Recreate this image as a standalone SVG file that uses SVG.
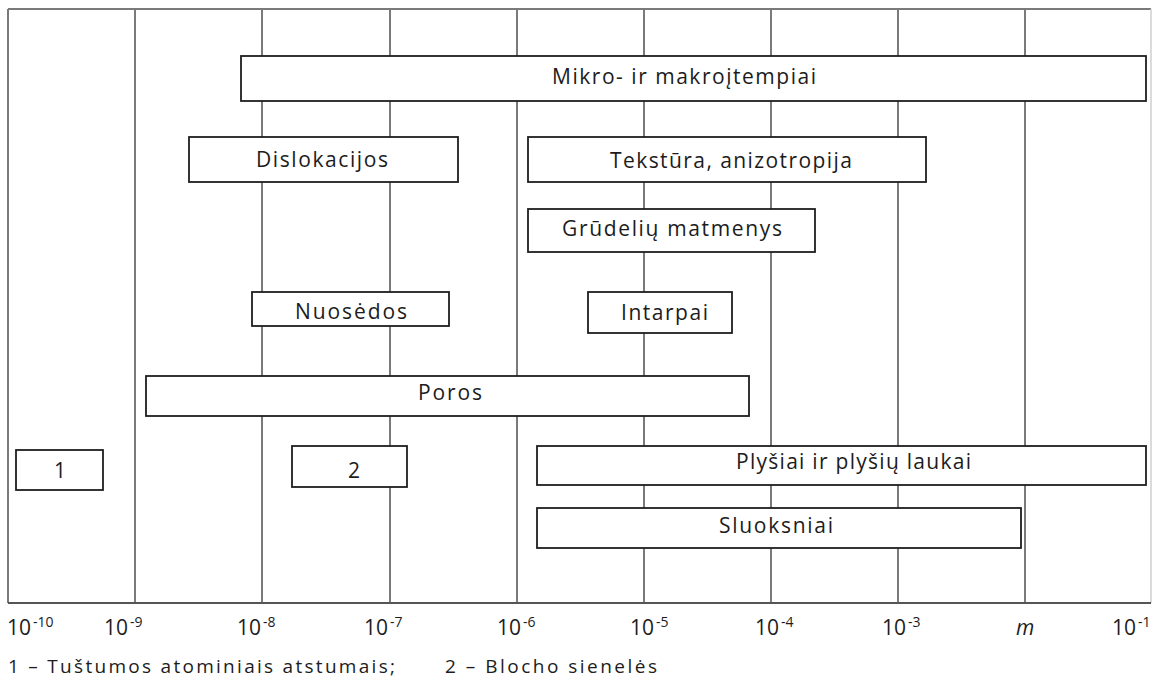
<svg xmlns="http://www.w3.org/2000/svg" width="1152" height="682" viewBox="0 0 1152 682">
  <style>
    .grid { stroke: #7a7a7a; stroke-width: 2; fill: none; }
    .frame { stroke: #555; stroke-width: 2; fill: none; }
    .box { fill: #fff; stroke: #1e1e1e; stroke-width: 1.8; }
    .lbl { font-family: "Open Sans", "Liberation Sans", sans-serif; font-size: 21px; fill: #1c1c1c; }
    .ax { font-family: "Open Sans", "Liberation Sans", sans-serif; font-size: 21px; fill: #1c1c1c; }
    .sup { font-family: "Open Sans", "Liberation Sans", sans-serif; font-size: 14px; fill: #1c1c1c; }
    .leg { font-family: "Open Sans", "Liberation Sans", sans-serif; font-size: 19px; fill: #1c1c1c; }
  </style>
  <rect width="1152" height="682" fill="#fff"/>

  <!-- scale grid: one vertical line per decade -->
  <g id="grid">
    <line class="grid" x1="8" y1="9" x2="1151" y2="9"/>
    <line class="grid" x1="8" y1="9" x2="8" y2="603"/>
    <line class="grid" x1="135" y1="9" x2="135" y2="603"/>
    <line class="grid" x1="262" y1="9" x2="262" y2="603"/>
    <line class="grid" x1="390" y1="9" x2="390" y2="603"/>
    <line class="grid" x1="517" y1="9" x2="517" y2="603"/>
    <line class="grid" x1="644" y1="9" x2="644" y2="603"/>
    <line class="grid" x1="771" y1="9" x2="771" y2="603"/>
    <line class="grid" x1="898" y1="9" x2="898" y2="603"/>
    <line class="grid" x1="1025" y1="9" x2="1025" y2="603"/>
    <line x1="1151" y1="9" x2="1151" y2="603" stroke="#cfcfcf" stroke-width="1.5"/>
    <line class="frame" x1="8" y1="603" x2="1151" y2="603"/>
  </g>

  <!-- ranges -->
  <g id="mikro">
    <rect class="box" x="241" y="56" width="905" height="45"/>
    <text class="lbl" x="552" y="84" textLength="264" lengthAdjust="spacing">Mikro- ir makroįtempiai</text>
  </g>
  <g id="dislokacijos">
    <rect class="box" x="189" y="137" width="269" height="45"/>
    <text class="lbl" x="256" y="167" textLength="132" lengthAdjust="spacing">Dislokacijos</text>
  </g>
  <g id="tekstura">
    <rect class="box" x="528" y="137" width="398" height="45"/>
    <text class="lbl" x="610" y="168" textLength="242" lengthAdjust="spacing">Tekstūra, anizotropija</text>
  </g>
  <g id="grudeliai">
    <rect class="box" x="528" y="209" width="287" height="43"/>
    <text class="lbl" x="562" y="236" textLength="220" lengthAdjust="spacing">Grūdelių matmenys</text>
  </g>
  <g id="nuosedos">
    <rect class="box" x="252" y="292" width="197" height="34"/>
    <text class="lbl" x="295" y="319" textLength="112" lengthAdjust="spacing">Nuosėdos</text>
  </g>
  <g id="intarpai">
    <rect class="box" x="588" y="292" width="144" height="41"/>
    <text class="lbl" x="621" y="320" textLength="87" lengthAdjust="spacing">Intarpai</text>
  </g>
  <g id="poros">
    <rect class="box" x="146" y="376" width="603" height="40"/>
    <text class="lbl" x="418" y="400" textLength="64" lengthAdjust="spacing">Poros</text>
  </g>
  <g id="n1">
    <rect class="box" x="16" y="450" width="87" height="40"/>
    <text class="lbl" x="60" y="478" text-anchor="middle">1</text>
  </g>
  <g id="n2">
    <rect class="box" x="292" y="446" width="115" height="41"/>
    <text class="lbl" x="354" y="478" text-anchor="middle">2</text>
  </g>
  <g id="plysiai">
    <rect class="box" x="537" y="446" width="609" height="39"/>
    <text class="lbl" x="736" y="469" textLength="235" lengthAdjust="spacing">Plyšiai ir plyšių laukai</text>
  </g>
  <g id="sluoksniai">
    <rect class="box" x="537" y="508" width="484" height="40"/>
    <text class="lbl" x="719" y="533" textLength="114" lengthAdjust="spacing">Sluoksniai</text>
  </g>

  <!-- axis labels -->
  <g id="axis">
    <text class="ax" x="7" y="635">10</text><text class="sup" x="33" y="627">-10</text>
    <text class="ax" x="104" y="635">10</text><text class="sup" x="130" y="627">-9</text>
    <text class="ax" x="237" y="635">10</text><text class="sup" x="263" y="627">-8</text>
    <text class="ax" x="364" y="635">10</text><text class="sup" x="390" y="627">-7</text>
    <text class="ax" x="497" y="635">10</text><text class="sup" x="523" y="627">-6</text>
    <text class="ax" x="630" y="635">10</text><text class="sup" x="656" y="627">-5</text>
    <text class="ax" x="755" y="635">10</text><text class="sup" x="781" y="627">-4</text>
    <text class="ax" x="882" y="635">10</text><text class="sup" x="908" y="627">-3</text>
    <text class="ax" x="1016" y="635" font-style="italic">m</text>
    <text class="ax" x="1112" y="635">10</text><text class="sup" x="1138" y="627">-1</text>
  </g>

  <!-- legend -->
  <g id="legend">
    <text class="leg" x="8" y="673" textLength="387" lengthAdjust="spacing">1 – Tuštumos atominiais atstumais;</text>
    <text class="leg" x="445" y="673" textLength="212" lengthAdjust="spacing">2 – Blocho sienelės</text>
  </g>
</svg>
